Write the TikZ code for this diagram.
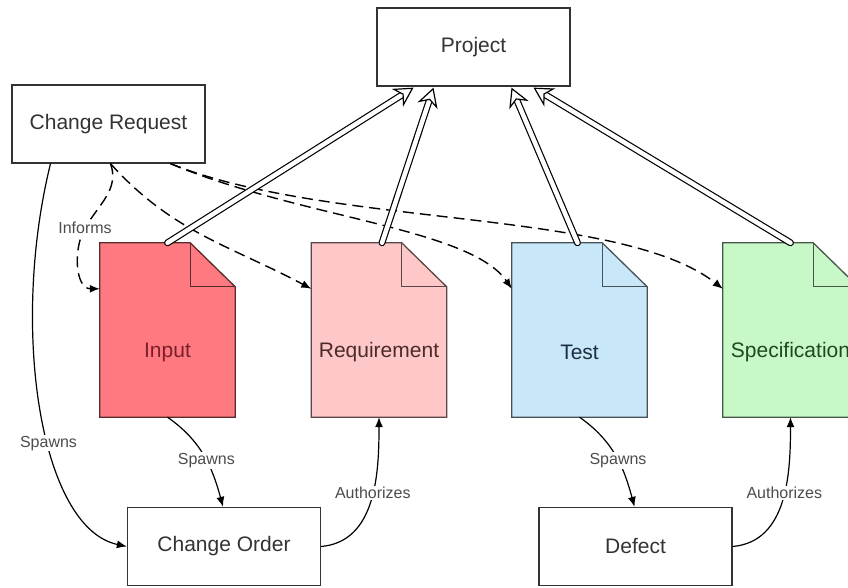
\documentclass[tikz,border=0pt]{standalone}
\usepackage{fontspec}
\setmainfont{Liberation Sans}
\usetikzlibrary{arrows.meta,backgrounds}
\definecolor{inputred}{HTML}{FF7A80}
\definecolor{reqpink}{HTML}{FFC8C8}
\definecolor{testblue}{HTML}{C8E8FA}
\definecolor{specgreen}{HTML}{C8F8C8}
\definecolor{inputtext}{HTML}{7A1F2A}
\definecolor{reqtext}{HTML}{4A2A2A}
\definecolor{testtext}{HTML}{1E2E3E}
\definecolor{spectext}{HTML}{1E4A1E}
\tikzset{
  box/.style={draw=black!80, line width=1.3pt, minimum width=193pt, minimum height=78pt,
    font=\fontsize{21}{25}\selectfont, text=black!80},
  docbody/.style={minimum width=135pt, minimum height=130pt, font=\fontsize{21}{25}\selectfont},
  page/.style={draw=#1!35!black, fill=#1, line width=1.3pt},
  fold/.style={draw=#1!35!black, line width=1.3pt},
  lbl/.style={fill=white, inner sep=1pt, font=\fontsize{16}{18}\selectfont, text=black!70},
  flow/.style={line width=1.2pt, -{Latex[length=10pt,width=8pt]}},
  informs/.style={flow, line width=1.4pt, dash pattern=on 11pt off 6pt},
  partof/.style={line width=1.2pt, double=white, double distance=4.5pt, line cap=round,
    -{Stealth[fill=white, length=19pt, width=21pt, inset=6pt]}}
}
% folded page drawn round a body node
\newcommand{\docpage}[2]{%
  \draw[page=#2] (#1.south west) -- ([yshift=44pt]#1.north west)
    -- ([xshift=-45pt,yshift=44pt]#1.north east) -- (#1.north east)
    -- (#1.south east) -- cycle;
  \draw[fold=#2] ([xshift=-45pt,yshift=44pt]#1.north east) |- (#1.north east);
}
\begin{document}
\begin{tikzpicture}[x=1pt,y=1pt]
  \useasboundingbox (0,0) rectangle (848,588);
  \node[box] (proj) at (473.5,541) {Project};
  \node[box] (creq) at (108.5,464) {Change Request};
  \node[box] (cord) at (224,41.5) {Change Order};
  \node[box] (defect) at (635.5,41.5) {Defect};

  \node[docbody, text=inputtext] (input) at (167.5,236) {Input};
  \node[docbody, text=reqtext] (req) at (379,236) {Requirement};
  \node[docbody, text=testtext] (test) at (579.5,236) {Test};
  \node[docbody, text=spectext] (spec) at (790.5,236) {Specification};
  \begin{pgfonlayer}{background}
    \docpage{input}{inputred}
    \docpage{req}{reqpink}
    \docpage{test}{testblue}
    \docpage{spec}{specgreen}
  \end{pgfonlayer}

  % informs
  \draw[informs] ([xshift=2pt]creq.south) to[out=-70,in=60] (85,360)
    node[lbl] (inf) {Informs} to[out=-120,in=180] ([yshift=-2pt]input.north west);
  \draw[informs] ([xshift=2pt]creq.south) to[out=-48,in=152] ([yshift=-2pt]req.north west);
  \draw[informs] ([xshift=62pt]creq.south) .. controls (300,370) and (470,360) .. ([yshift=-2pt]test.north west);
  \draw[informs] ([xshift=62pt]creq.south) .. controls (330,360) and (620,380) .. ([yshift=-2pt]spec.north west);

  % part of project
  \draw[partof] ([yshift=44pt]input.north) -- ([xshift=-60pt,yshift=-1pt]proj.south);
  \draw[partof] ([xshift=3pt,yshift=44pt]req.north) -- ([xshift=-40pt,yshift=-1pt]proj.south);
  \draw[partof] ([xshift=-2pt,yshift=44pt]test.north) -- ([xshift=38pt,yshift=-1pt]proj.south);
  \draw[partof] ([yshift=44pt]spec.north) -- ([xshift=60pt,yshift=-1pt]proj.south);

  % spawns and authorizes
  \draw[flow] ([xshift=-58pt]creq.south) .. controls (10,260) and (40,60) ..
    node[lbl, pos=0.58] (sp1) {Spawns} (cord.west);
  \draw[flow] (input.south) to[out=-35,in=105] node[lbl, pos=0.55] (sp2) {Spawns} ([xshift=-1pt]cord.north);
  \draw[flow] (cord.east) to[out=5,in=-90] node[lbl, pos=0.55] (au1) {Authorizes} (req.south);
  \draw[flow] (test.south) to[out=-35,in=105] node[lbl, pos=0.55] (sp3) {Spawns} ([xshift=-1pt]defect.north);
  \draw[flow] (defect.east) to[out=5,in=-90] node[lbl, pos=0.55] (au2) {Authorizes} (spec.south);
\end{tikzpicture}
\end{document}
